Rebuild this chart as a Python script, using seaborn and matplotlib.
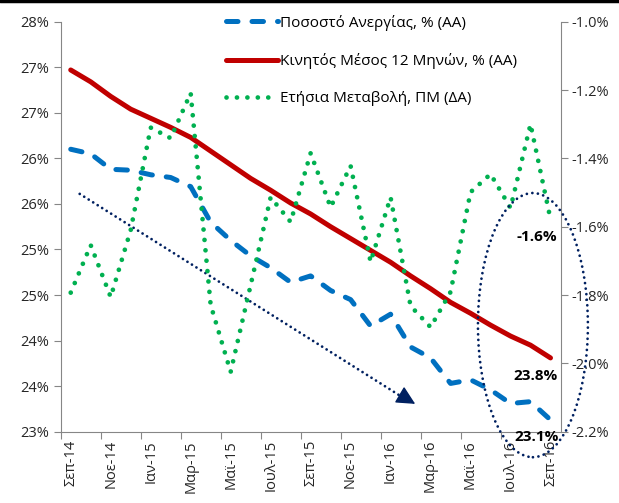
import matplotlib
matplotlib.use("Agg")
import matplotlib.pyplot as plt
from matplotlib.patches import Ellipse
from matplotlib.lines import Line2D
import numpy as np
import pandas as pd
import seaborn as sns

# monthly data Sep-14 .. Sep-16
months = ["Σεπ-14", "Οκτ-14", "Νοε-14", "Δεκ-14", "Ιαν-15", "Φεβ-15",
          "Μαρ-15", "Απρ-15", "Μαϊ-15", "Ιουν-15", "Ιουλ-15", "Αυγ-15",
          "Σεπ-15", "Οκτ-15", "Νοε-15", "Δεκ-15", "Ιαν-16", "Φεβ-16",
          "Μαρ-16", "Απρ-16", "Μαϊ-16", "Ιουν-16", "Ιουλ-16", "Αυγ-16",
          "Σεπ-16"]

unemployment = [26.10, 26.05, 25.88, 25.87, 25.82, 25.79, 25.69, 25.30,
                25.10, 24.93, 24.80, 24.64, 24.71, 24.55, 24.45, 24.16,
                24.29, 23.93, 23.81, 23.53, 23.57, 23.46, 23.31, 23.33,
                23.13]

moving_avg = [26.97, 26.84, 26.68, 26.54, 26.44, 26.34, 26.23, 26.08,
              25.93, 25.78, 25.65, 25.51, 25.39, 25.25, 25.12, 24.99,
              24.86, 24.71, 24.57, 24.42, 24.30, 24.17, 24.05, 23.95,
              23.81]

annual_change = [-1.793, -1.654, -1.806, -1.610, -1.310, -1.341, -1.209,
                 -1.829, -2.025, -1.771, -1.514, -1.586, -1.385, -1.543,
                 -1.422, -1.703, -1.514, -1.832, -1.894, -1.791, -1.499,
                 -1.446, -1.545, -1.300, -1.578]

left_ticks = [23.0, 23.5, 24.0, 24.5, 25.0, 25.5, 26.0, 26.5, 27.0, 27.5]
left_tick_labels = ["23%", "24%", "24%", "25%", "25%",
                    "26%", "26%", "27%", "27%", "28%"]
right_ticks = [-2.2, -2.0, -1.8, -1.6, -1.4, -1.2, -1.0]

labels = ["Ποσοστό Ανεργίας, % (ΑΑ)",
          "Κινητός Μέσος 12 Μηνών, % (ΑΑ)",
          "Ετήσια Μεταβολή, ΠΜ (ΔΑ)"]

df = pd.DataFrame({"month": np.arange(len(months)),
                   "unemp": unemployment,
                   "avg": moving_avg,
                   "chg": annual_change})

sns.set_style("white")
plt.rcParams["font.family"] = ["Open Sans", "DejaVu Sans"]
plt.rcParams["font.size"] = 10.5

BLUE = "#0070C0"
RED = "#C00000"
GREEN = "#00B050"
NAVY = "#002060"
GREY = "#868686"
TXT = "#262626"

fig = plt.figure(figsize=(6.19, 5.03), dpi=100)
ax = fig.add_axes([0.0981, 0.1417, 0.8074, 0.8152])
ax2 = ax.twinx()

sns.lineplot(data=df, x="month", y="unemp", ax=ax, color=BLUE, lw=3.6,
             linestyle=(0, (2.3, 2.8)), dash_capstyle="round",
             label=labels[0])
sns.lineplot(data=df, x="month", y="avg", ax=ax, color=RED, lw=3.6,
             solid_capstyle="round", label=labels[1])
sns.lineplot(data=df, x="month", y="chg", ax=ax2, color=GREEN, lw=3.4,
             linestyle=(0, (0.01, 2.2)), dash_capstyle="round",
             label=labels[2])
for a in (ax, ax2):
    if a.get_legend() is not None:
        a.get_legend().remove()

ax.set_xlim(-0.5, 24.5)
ax.set_ylim(23, 27.5)
ax2.set_ylim(-2.2, -1.0)

ax.set_yticks(left_ticks)
ax.set_yticklabels(left_tick_labels)
ax2.set_yticks(right_ticks)
ax2.set_yticklabels([f"{v:.1f}%" for v in right_ticks])

ax.set_xticks(np.arange(0, len(months), 2))
ax.set_xticklabels(months[::2], rotation=90)
ax.set_xticks(np.arange(-0.5, len(months) - 1, 2), minor=True)
ax.tick_params(axis="x", which="major", length=0, pad=6, colors=TXT)
ax.tick_params(axis="x", which="minor", length=5, width=0.8, color=GREY,
               direction="out", bottom=True)
ax.tick_params(axis="y", length=5, width=0.8, color=GREY, direction="out",
               left=True, labelcolor=TXT, pad=3)
ax2.tick_params(axis="y", length=5, width=0.8, color=GREY, direction="out",
                right=True, labelcolor=TXT, pad=3)

ax.set_xlabel("")
ax.set_ylabel("")
ax2.set_ylabel("")
for a in (ax, ax2):
    a.spines["top"].set_visible(False)
    for s in ("left", "right", "bottom"):
        a.spines[s].set_color(GREY)
        a.spines[s].set_linewidth(0.8)
ax.spines["right"].set_visible(False)
ax2.spines["left"].set_visible(False)
ax2.spines["bottom"].set_visible(False)

# end-of-period value labels
ax.annotate(f"{unemployment[-1]:.1f}%", xy=(24, unemployment[-1]),
            xytext=(-10, -12), textcoords="offset points", ha="center",
            va="center", fontweight="bold", color="black", fontsize=11,
            annotation_clip=False)
ax.annotate(f"{moving_avg[-1]:.1f}%", xy=(24, moving_avg[-1]),
            xytext=(-11, -13), textcoords="offset points", ha="center",
            va="center", fontweight="bold", color="black", fontsize=11)
ax2.annotate(f"{annual_change[-1]:.1f}%", xy=(24, annual_change[-1]),
             xytext=(-10, -13), textcoords="offset points", ha="center",
             va="center", fontweight="bold", color="black", fontsize=11)

# dotted trend arrow
ax.plot([0.45, 16.8], [25.61, 23.35], color=NAVY, lw=2.0,
        linestyle=(0, (0.01, 1.9)), dash_capstyle="round")
ax.annotate("", xy=(17.35, 23.29), xytext=(16.5, 23.40),
            arrowprops=dict(arrowstyle="-|>,head_length=1.1,head_width=0.55",
                            color=NAVY, lw=1))

# dotted ellipse around the latest values
ell = Ellipse((23.12, 24.17), width=5.5, height=2.9, transform=ax.transData,
              fill=False, edgecolor=NAVY, lw=2.0,
              linestyle=(0, (0.01, 2.0)), capstyle="round", clip_on=False,
              zorder=5)
ax2.add_patch(ell)

handles = [Line2D([], [], color=BLUE, lw=3.6, linestyle=(0, (2.3, 2.8)),
                  dash_capstyle="round"),
           Line2D([], [], color=RED, lw=3.6, solid_capstyle="round"),
           Line2D([], [], color=GREEN, lw=3.4, linestyle=(0, (0.01, 2.2)),
                  dash_capstyle="round")]
ax2.legend(handles, labels, loc="upper left", frameon=False,
           bbox_to_anchor=(212 / 619, 1 - 1 / 503),
           bbox_transform=fig.transFigure, handlelength=3.4,
           handletextpad=0.15, labelspacing=1.45, fontsize=11,
           labelcolor="black")

fig.add_artist(Line2D([0, 1], [0.998, 0.998], color="black", lw=2.5,
                      transform=fig.transFigure))

fig.savefig("out.png", dpi=100)
